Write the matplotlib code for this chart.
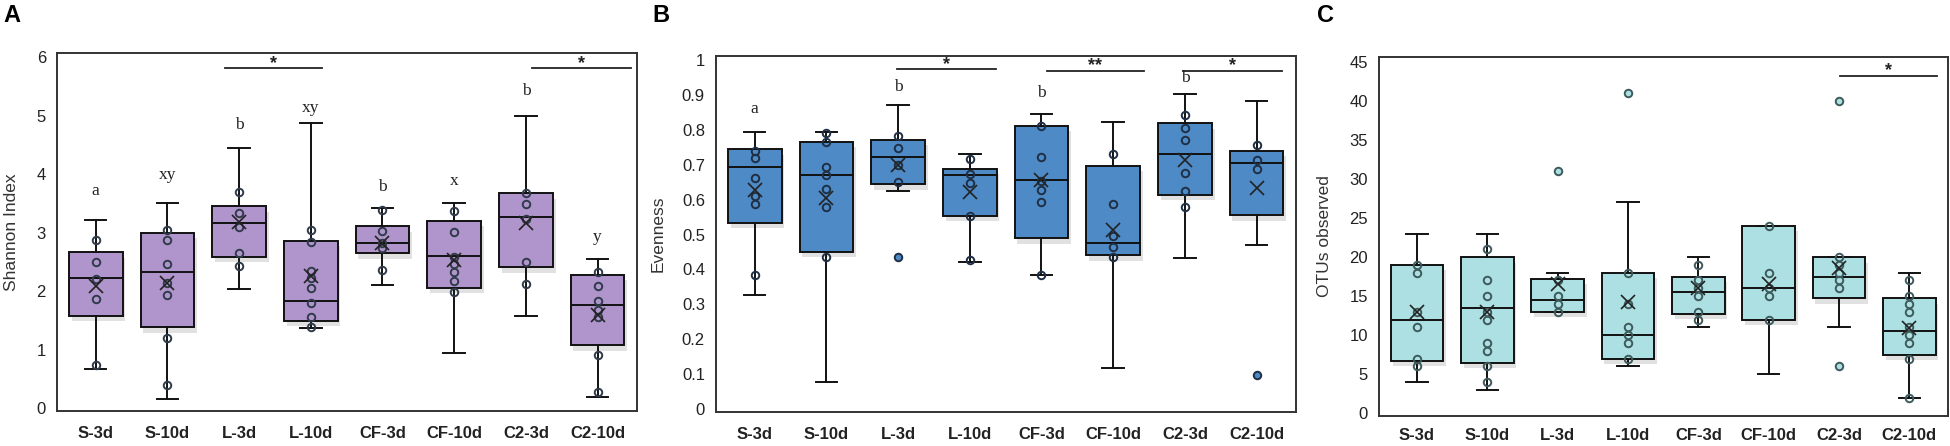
import matplotlib
matplotlib.use("Agg")
import matplotlib.pyplot as plt
import matplotlib.patheffects as pe
import numpy as np

cats = ['S-3d', 'S-10d', 'L-3d', 'L-10d', 'CF-3d', 'CF-10d', 'C2-3d', 'C2-10d']

# Panel A - Shannon index
sh_wlo = [0.67, 0.16, 2.04, 1.37, 2.10, 0.95, 1.58, 0.19]
sh_q1 = [1.58, 1.38, 2.59, 1.49, 2.65, 2.06, 2.41, 1.07]
sh_med = [2.23, 2.33, 3.17, 1.83, 2.83, 2.60, 3.27, 1.76]
sh_q3 = [2.66, 3.00, 3.45, 2.86, 3.11, 3.20, 3.67, 2.28]
sh_whi = [3.21, 3.51, 4.45, 4.88, 3.42, 3.51, 5.00, 2.54]
sh_mean = [2.08, 2.13, 3.18, 2.25, 2.83, 2.53, 3.16, 1.59]
sh_pts = [[2.87, 2.50, 2.20, 1.86, 0.73],
          [3.04, 2.87, 2.47, 2.13, 1.93, 1.19, 0.39],
          [3.69, 3.33, 3.10, 2.65, 2.43],
          [3.05, 2.84, 2.35, 2.22, 2.05, 1.80, 1.55, 1.39],
          [3.38, 3.03, 2.82, 2.73, 2.36],
          [3.37, 3.01, 2.59, 2.47, 2.33, 2.17, 1.99],
          [3.67, 3.49, 3.24, 2.50, 2.12],
          [2.33, 2.09, 1.83, 1.68, 1.56, 0.91, 0.27]]
sh_out = [[], [], [], [], [], [], [], []]
sh_letters = ['a', 'xy', 'b', 'xy', 'b', 'x', 'b', 'y']
sh_letter_y = [3.57, 3.84, 4.71, 5.00, 3.65, 3.75, 5.28, 2.79]
sh_sig = [(2.80, 4.15, 5.81, '*'), (7.09, 8.47, 5.81, '*')]

# Panel B - Evenness
ev_wlo = [0.328, 0.079, 0.626, 0.421, 0.383, 0.117, 0.434, 0.469]
ev_q1 = [0.534, 0.451, 0.644, 0.554, 0.490, 0.440, 0.614, 0.556]
ev_med = [0.692, 0.671, 0.723, 0.671, 0.656, 0.477, 0.731, 0.706]
ev_q3 = [0.744, 0.766, 0.771, 0.688, 0.811, 0.697, 0.819, 0.740]
ev_whi = [0.793, 0.793, 0.871, 0.731, 0.845, 0.823, 0.902, 0.881]
ev_mean = [0.628, 0.604, 0.700, 0.621, 0.656, 0.513, 0.714, 0.633]
ev_pts = [[0.740, 0.718, 0.661, 0.609, 0.588, 0.385],
          [0.790, 0.766, 0.692, 0.669, 0.630, 0.578, 0.437],
          [0.782, 0.749, 0.698, 0.649],
          [0.716, 0.673, 0.647, 0.553, 0.427],
          [0.810, 0.723, 0.652, 0.628, 0.594, 0.385],
          [0.731, 0.587, 0.496, 0.464, 0.437],
          [0.841, 0.806, 0.771, 0.676, 0.626, 0.578],
          [0.757, 0.712, 0.687]]
ev_out = [[], [], [0.437], [], [], [], [], [0.098]]
ev_letters = ['a', '', 'b', '', 'b', '', 'b', '']
ev_letter_y = [0.836, 0, 0.900, 0, 0.881, 0, 0.926, 0]
ev_sig = [(2.99, 4.36, 0.973, '*'), (5.07, 6.43, 0.969, '**'), (6.98, 8.36, 0.969, '*')]

# Panel C - OTUs observed
ot_wlo = [4, 3, 13, 6, 11, 5, 11, 2]
ot_q1 = [6.75, 6.5, 13, 7, 12.75, 12, 14.75, 7.5]
ot_med = [12, 13.5, 14.5, 10, 15.5, 16, 17.5, 10.5]
ot_q3 = [19, 20, 17.25, 18, 17.5, 24, 20, 14.75]
ot_whi = [23, 23, 18, 27, 20, 24, 20, 18]
ot_mean = [13, 13, 16.6, 14.3, 16.0, 16.6, 18.6, 10.9]
ot_pts = [[19, 18, 13, 11, 7, 6],
          [21, 17, 15, 13, 12, 9, 8, 6, 4],
          [17, 15, 14, 13],
          [18, 14, 11, 10, 9, 7],
          [19, 17, 16, 15, 13, 12],
          [24, 18, 16, 15, 12],
          [20, 19, 18, 17, 16],
          [17, 15, 14, 13, 11, 10, 9, 7, 2]]
ot_out = [[], [], [31], [41], [], [], [40, 6], []]
ot_sig = [(7.02, 8.40, 43.2, '*')]

W, H = 1950, 446
fig = plt.figure(figsize=(W / 100, H / 100), dpi=100)
SANS = ['Liberation Sans', 'DejaVu Sans']
SERIF = ['Liberation Serif', 'DejaVu Serif']


def axrect(l, r, t, b):
    return [l / W, 1 - b / H, (r - l) / W, (b - t) / H]


def panel(rect, wlo, q1, med, q3, whi, mean, pts, out, color, ylim, yticks,
          yticklabels, ylabel, ylabel_x, sig, xpad, letters=None, letter_y=None,
          ptcolor='#2f3b4a'):
    ax = fig.add_axes(rect)
    stats = []
    for i in range(len(cats)):
        stats.append(dict(whislo=wlo[i], q1=q1[i], med=med[i], q3=q3[i],
                          whishi=whi[i], mean=mean[i], fliers=[], label=cats[i]))
    pos = np.arange(1, len(cats) + 1)
    bp = ax.bxp(stats, positions=pos, widths=0.75, patch_artist=True,
                showmeans=False, showfliers=False,
                boxprops=dict(facecolor=color, edgecolor='#111111', linewidth=1.4),
                medianprops=dict(color='#111111', linewidth=1.4),
                whiskerprops=dict(color='#111111', linewidth=1.4),
                capprops=dict(color='#111111', linewidth=1.4),
                capwidths=0.3)
    for b in bp['boxes']:
        b.set_path_effects([pe.SimplePatchShadow(offset=(2, -4), shadow_rgbFace='#888888', alpha=0.25), pe.Normal()])
    for i, p in enumerate(pos):
        ax.plot([p] * len(pts[i]), pts[i], linestyle='none', marker='o', ms=5.4,
                mfc='none', mec=ptcolor, mew=1.4, zorder=4)
        if out[i]:
            ax.plot([p] * len(out[i]), out[i], linestyle='none', marker='o', ms=5.4,
                    mfc=color, mec=ptcolor, mew=1.4, zorder=4)
        ax.plot([p], [mean[i]], linestyle='none', marker='x', ms=10, mec='#222222',
                mew=1.2, zorder=5)
    if letters:
        for i, (lt, ly) in enumerate(zip(letters, letter_y)):
            if lt:
                ax.text(pos[i], ly, lt, ha='center', va='bottom', fontsize=12.5,
                        family=SERIF, color='#222222')
    span = ylim[1] - ylim[0]
    for x0, x1, y, s in sig:
        ax.plot([x0, x1], [y, y], color='#222222', lw=1.3)
        ax.text((x0 + x1) / 2, y - span * 0.01, s, ha='center', va='bottom',
                fontsize=13, fontweight='bold', color='#222222', family=SANS)
    ax.set_xlim(0.46, 8.55)
    ax.set_ylim(*ylim)
    ax.set_yticks(yticks)
    ax.set_yticklabels(yticklabels, family=SANS, fontsize=12, color='#222222')
    ax.set_xticks(pos)
    ax.set_xticklabels(cats, family=SANS, fontsize=12, fontweight='bold', color='#222222')
    ax.tick_params(axis='both', length=0)
    ax.tick_params(axis='y', pad=8)
    ax.tick_params(axis='x', pad=xpad)
    ax.set_ylabel(ylabel, family=SANS, fontsize=12.5, color='#333333')
    ax.yaxis.set_label_coords(ylabel_x, 0.5)
    for sp in ax.spines.values():
        sp.set_color('#333333')
        sp.set_linewidth(1.4)
    return ax


panel(axrect(57, 637, 53, 411), sh_wlo, sh_q1, sh_med, sh_q3, sh_whi, sh_mean,
      sh_pts, sh_out, '#b095cc', (-0.05, 6.07), [0, 1, 2, 3, 4, 5, 6],
      ['0', '1', '2', '3', '4', '5', '6'], 'Shannon Index', -0.066, sh_sig, 11,
      sh_letters, sh_letter_y)

panel(axrect(716, 1296, 56, 412), ev_wlo, ev_q1, ev_med, ev_q3, ev_whi, ev_mean,
      ev_pts, ev_out, '#4d8ac6', (-0.008, 1.011), list(np.round(np.arange(0, 1.01, 0.1), 1)),
      ['0', '0.1', '0.2', '0.3', '0.4', '0.5', '0.6', '0.7', '0.8', '0.9', '1'],
      'Evenness', -0.086, ev_sig, 11, ev_letters, ev_letter_y, ptcolor='#1f2f45')

panel(axrect(1379, 1948, 57, 416), ot_wlo, ot_q1, ot_med, ot_q3, ot_whi, ot_mean,
      ot_pts, ot_out, '#ade0e2', (-0.34, 45.6), list(range(0, 46, 5)),
      [str(v) for v in range(0, 46, 5)], 'OTUs observed', -0.083, ot_sig, 9,
      ptcolor='#3d5a5c')

for x, lt in [(3, 'A'), (652, 'B'), (1317, 'C')]:
    fig.text(x / W, 1 - 4 / H, lt, ha='left', va='top', fontsize=17,
             fontweight='bold', family=SANS)

fig.savefig('out.png', dpi=100)
